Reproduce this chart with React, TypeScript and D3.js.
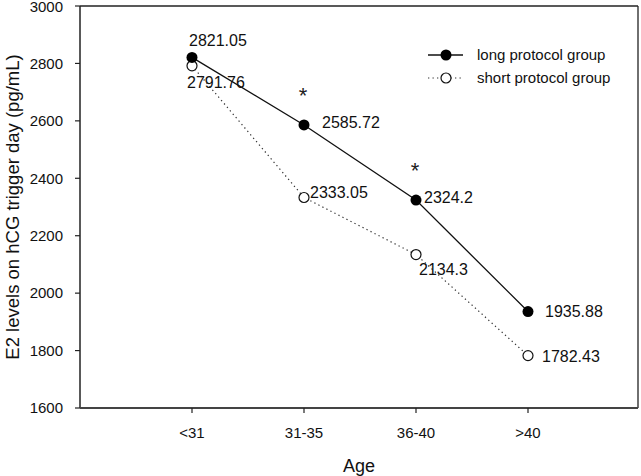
import React from 'react';
import * as d3 from 'd3';

const ageGroups = ['<31', '31-35', '36-40', '>40'];
const longProtocol = [2821.05, 2585.72, 2324.2, 1935.88];
const shortProtocol = [2791.76, 2333.05, 2134.3, 1782.43];
const yTicks = [1600, 1800, 2000, 2200, 2400, 2600, 2800, 3000];
const significant = [false, true, true, false];

// label placement relative to each point (px)
const longLabelOffsets = [[-3, -11], [18, 3], [8, 3], [17, 5]];
const shortLabelOffsets = [[-5, 22], [6, 0], [3, 20], [14, 6]];

const W = 641;
const H = 476;
const left = 80;
const right = 638;
const top = 6;
const bottom = 408;
const font = 'Arial, "Liberation Sans", sans-serif';

export default function App() {
  const x = d3.scaleLinear().domain([0, ageGroups.length + 1]).range([left, left + 112 * 5]);
  const y = d3.scaleLinear().domain([1600, 3000]).range([bottom, top]);

  const line = d3.line<number>()
    .x((d, i) => x(i + 1))
    .y(d => y(d));

  return (
    <svg width={W} height={H} style={{ position: 'absolute', left: 0, top: 0, background: '#fff' }}
      fontFamily={font}>
      {/* frame */}
      <line x1={left} x2={right} y1={top} y2={top} stroke="#222" strokeWidth={1.3} />
      <line x1={right} x2={right} y1={top} y2={bottom} stroke="#222" strokeWidth={1.3} />
      <line x1={left} x2={left} y1={top} y2={bottom} stroke="#222" strokeWidth={1.5} />
      <line x1={left} x2={right} y1={bottom} y2={bottom} stroke="#444" strokeWidth={1.8} />

      {/* y axis */}
      {yTicks.map(t => (
        <g key={t}>
          <line x1={left - 5} x2={left} y1={y(t)} y2={y(t)} stroke="#222" strokeWidth={1.2} />
          <text x={63} y={y(t)} dy={t === 3000 ? '0.4em' : '0.35em'} textAnchor="end" fontSize={15} fill="#111">{t}</text>
        </g>
      ))}
      <text transform={`translate(13, ${(top + bottom) / 2}) rotate(-90)`} textAnchor="middle"
        dy="0.35em" fontSize={18.5} fill="#111">E2 levels on hCG trigger day (pg/mL)</text>

      {/* x axis */}
      {ageGroups.map((g, i) => (
        <g key={g}>
          <line x1={x(i + 1)} x2={x(i + 1)} y1={bottom} y2={bottom + 5} stroke="#222" strokeWidth={1.2} />
          <text x={x(i + 1)} y={438} textAnchor="middle" fontSize={15} fill="#111">{g}</text>
        </g>
      ))}
      <text x={(left + right) / 2} y={472} textAnchor="middle" fontSize={18} fill="#111">Age</text>

      {/* series lines */}
      <path d={line(shortProtocol) || ''} fill="none" stroke="#333" strokeWidth={1.2} strokeDasharray="1.3,3.2" />
      <path d={line(longProtocol) || ''} fill="none" stroke="#111" strokeWidth={1.3} />

      {/* markers */}
      {shortProtocol.map((v, i) => (
        <circle key={'s' + i} cx={x(i + 1)} cy={y(v)} r={5} fill="#fff" stroke="#111" strokeWidth={1.2} />
      ))}
      {longProtocol.map((v, i) => (
        <circle key={'l' + i} cx={x(i + 1)} cy={y(v)} r={5.5} fill="#000" />
      ))}

      {/* value labels */}
      {longProtocol.map((v, i) => (
        <text key={'lt' + i} x={x(i + 1) + longLabelOffsets[i][0]} y={y(v) + longLabelOffsets[i][1]}
          fontSize={16} fill="#111">{v}</text>
      ))}
      {shortProtocol.map((v, i) => (
        <text key={'st' + i} x={x(i + 1) + shortLabelOffsets[i][0]} y={y(v) + shortLabelOffsets[i][1]}
          fontSize={16} fill="#111">{v}</text>
      ))}

      {/* significance marks */}
      {significant.map((s, i) => s ? (
        <text key={'sig' + i} x={x(i + 1) - 1} y={y(longProtocol[i]) - 22} textAnchor="middle"
          fontSize={22} fill="#222">*</text>
      ) : null)}

      {/* legend */}
      <g>
        <line x1={428} x2={463} y1={55} y2={55} stroke="#111" strokeWidth={1.3} />
        <circle cx={446} cy={55} r={5.5} fill="#000" />
        <text x={477} y={55} dy="0.35em" fontSize={15} fill="#111">long protocol group</text>
        <line x1={428} x2={463} y1={78} y2={78} stroke="#333" strokeWidth={1.2} strokeDasharray="1.3,3.2" />
        <circle cx={446} cy={78} r={5} fill="#fff" stroke="#111" strokeWidth={1.2} />
        <text x={477} y={78} dy="0.35em" fontSize={15} fill="#111">short protocol group</text>
      </g>
    </svg>
  );
}
